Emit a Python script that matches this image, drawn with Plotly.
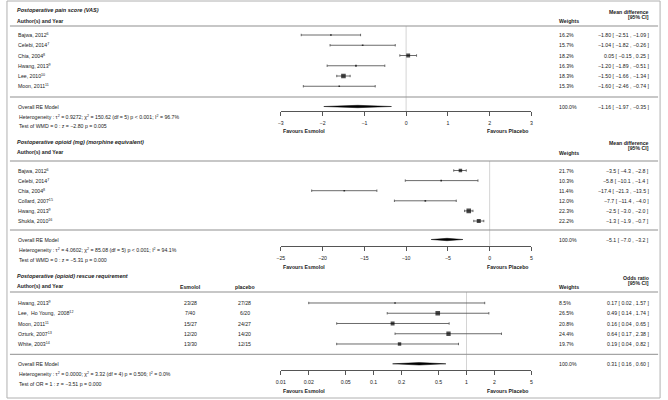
import numpy as np
import plotly.graph_objects as go

# ---------------- data ----------------
# Panel 1: postoperative pain score (VAS)
vas_studies = ["Bajwa, 2012", "Celebi, 2014", "Chia, 2004", "Hwang, 2013", "Lee, 2010", "Moon, 2011"]
vas_refs = ["6", "7", "8", "9", "10", "11"]
vas_est = [-1.80, -1.04, 0.05, -1.20, -1.50, -1.60]
vas_lo = [-2.51, -1.82, -0.15, -1.89, -1.66, -2.46]
vas_hi = [-1.09, -0.26, 0.25, -0.51, -1.34, -0.74]
vas_w = [16.2, 15.7, 18.2, 16.3, 18.3, 15.3]
vas_overall = [-1.16, -1.97, -0.35]
vas_ticks = [-3, -2, -1, 0, 1, 2, 3]
vas_het = ["0.9272", "150.62", "5", "p &lt; 0.001", "96.7%"]
vas_test = ["WMD = 0", "−2.80", "p = 0.005"]

# Panel 2: postoperative opioid (mg)
op_studies = ["Bajwa, 2012", "Celebi, 2014", "Chia, 2004", "Collard, 2007", "Hwang, 2013", "Shukla, 2010"]
op_refs = ["6", "7", "8", "15", "9", "16"]
op_est = [-3.5, -5.8, -17.4, -7.7, -2.5, -1.3]
op_lo = [-4.3, -10.1, -21.3, -11.4, -3.0, -1.9]
op_hi = [-2.8, -1.4, -13.5, -4.0, -2.0, -0.7]
op_w = [21.7, 10.3, 11.4, 12.0, 22.3, 22.2]
op_overall = [-5.1, -7.0, -3.2]
op_ticks = [-25, -20, -15, -10, -5, 0, 5]
op_het = ["4.0602", "85.08", "5", "p &lt; 0.001", "94.1%"]
op_test = ["WMD = 0", "−5.31", "p = 0.000"]

# Panel 3: rescue requirement (odds ratio)
rs_studies = ["Hwang, 2013", "Lee,  Ho Young,  2008", "Moon, 2011", "Ozturk, 2007", "White, 2003"]
rs_refs = ["9", "12", "11", "13", "14"]
rs_esm_ev = [23, 7, 15, 12, 13]
rs_esm_n = [28, 40, 27, 20, 30]
rs_pla_ev = [27, 6, 24, 14, 12]
rs_pla_n = [28, 20, 27, 20, 15]
rs_est = [0.17, 0.49, 0.16, 0.64, 0.19]
rs_lo = [0.02, 0.14, 0.04, 0.17, 0.04]
rs_hi = [1.57, 1.74, 0.65, 2.38, 0.82]
rs_w = [8.5, 26.5, 20.8, 24.4, 19.7]
rs_overall = [0.31, 0.16, 0.60]
rs_ticks = [0.01, 0.02, 0.05, 0.1, 0.2, 0.5, 1, 2, 5]
rs_tick_labels = ["0.01", "0.02", "0.05", "0.1", "0.2", "0.5", "1", "2", "5"]
rs_het = ["0.0000", "3.32", "4", "p = 0.506", "0.0%"]
rs_test = ["OR = 1", "−3.51", "p = 0.000"]

# ---------------- layout constants (pixels) ----------------
W, H = 668, 400
FONT = "Liberation Sans, Arial, sans-serif"
TXT = "#1a1a1a"
FS = 5.2
AX_L, AX_R = 278.7, 532.0
X_LABEL = 11
X_W = 558
X_CI = 653

def px(x):
    return x / W

def py(y):
    return 1 - y / H

fig = go.Figure()
annotations = []
shapes = []

def ann(x, y, text, anchor="left", size=FS):
    annotations.append(dict(x=px(x), y=py(y), xref="paper", yref="paper", text=text,
                            showarrow=False, xanchor=anchor, yanchor="middle",
                            font=dict(family=FONT, size=size, color=TXT)))

def hline(y, x0=5, x1=660, color="#8f8f8f"):
    shapes.append(dict(type="line", xref="paper", yref="y", x0=px(x0), x1=px(x1), y0=y, y1=y,
                       line=dict(color=color, width=1)))

def fmt(v, d):
    return f"{v:.{d}f}".replace("-", "−")

def psizes(lo, hi, log=False):
    lo = np.array(lo, float); hi = np.array(hi, float)
    w = (np.log(hi) - np.log(lo)) if log else (hi - lo)
    prec = 1 / w
    n = (prec - prec.min()) / (prec.max() - prec.min())
    return 1.6 + 3.0 * n

def panel(xa, studies, refs, est, lo, hi, wts, overall, ref_x, rows_y0, step,
          sep_top, sep_bot, axis_y, dec, log=False):
    rows = [rows_y0 + i * step for i in range(len(studies))]
    diam_y = sep_bot + 9.5
    # reference line
    fig.add_trace(go.Scatter(x=[ref_x, ref_x], y=[sep_top, axis_y], mode="lines",
                             line=dict(color="#d4d4d4", width=1), xaxis=xa, yaxis="y",
                             hoverinfo="skip"))
    est_a = np.array(est); lo_a = np.array(lo); hi_a = np.array(hi)
    fig.add_trace(go.Scatter(x=est, y=rows, mode="markers", xaxis=xa, yaxis="y",
                             marker=dict(symbol="square", size=psizes(lo, hi, log), color="black",
                                         line=dict(width=0)),
                             error_x=dict(type="data", symmetric=False, array=hi_a - est_a,
                                          arrayminus=est_a - lo_a, color="#5a5a5a",
                                          thickness=0.9, width=1.2),
                             hoverinfo="skip"))
    e, l, h = overall
    dh = 1.2
    fig.add_trace(go.Scatter(x=[l, e, h, e, l], y=[diam_y, diam_y - dh, diam_y, diam_y + dh, diam_y],
                             mode="lines", fill="toself", fillcolor="black",
                             line=dict(color="black", width=0.5), xaxis=xa, yaxis="y",
                             hoverinfo="skip"))
    for i, r in enumerate(rows):
        ann(X_LABEL, r, f"{studies[i]}<sup>{refs[i]}</sup>")
        ann(X_W, r, f"{wts[i]:.1f}%")
        ann(X_CI, r, f"{fmt(est[i], dec)} [ {fmt(lo[i], dec)} , {fmt(hi[i], dec)} ]", "right")
    ann(X_LABEL, diam_y, "Overall RE Model")
    ann(X_W, diam_y, "100.0%")
    ann(X_CI, diam_y, f"{fmt(e, dec)} [ {fmt(l, dec)} , {fmt(h, dec)} ]", "right")
    hline(sep_top)
    hline(sep_bot)
    return rows, diam_y

def het_lines(y1, y2, het, test):
    ann(12, y1, f"Heterogeneity : τ<sup>2</sup> = {het[0]}; χ<sup>2</sup> = {het[1]} (df = {het[2]}) {het[3]}; I<sup>2</sup> = {het[4]}")
    ann(12, y2, f"Test of {test[0]} : z = {test[1]} {test[2]}")

# ---- Panel 1 ----
ann(10, 10, "<b><i>Postoperative pain score (VAS)</i></b>", size=5.5)
ann(10, 20.5, "<b>Author(s) and Year</b>")
ann(X_W, 21.5, "<b>Weights</b>")
ann(X_CI, 11.5, "<b>Mean difference</b>", "right")
ann(X_CI, 16.8, "<b>[95% CI]</b>", "right")
panel("x", vas_studies, vas_refs, vas_est, vas_lo, vas_hi, vas_w, vas_overall, 0,
      35, 10.25, 26, 97, 111, 2)
het_lines(116.5, 126, vas_het, vas_test)
ann(AX_L, 131, "<b>Favours Esmolol</b>")
ann(AX_R, 131, "<b>Favours Placebo</b>", "right")

# ---- Panel 2 ----
ann(10, 142, "<b><i>Postoperative opioid (mg) (morphine equivalent)</i></b>", size=5.5)
ann(10, 152, "<b>Author(s) and Year</b>")
ann(X_W, 153, "<b>Weights</b>")
ann(X_CI, 143, "<b>Mean difference</b>", "right")
ann(X_CI, 148.3, "<b>[95% CI]</b>", "right")
panel("x2", op_studies, op_refs, op_est, op_lo, op_hi, op_w, op_overall, 0,
      170.5, 10.1, 161, 230, 245.7, 1)
het_lines(249.5, 259.5, op_het, op_test)
ann(AX_L, 266.5, "<b>Favours Esmolol</b>")
ann(AX_R, 266.5, "<b>Favours Placebo</b>", "right")

# ---- Panel 3 ----
ann(10, 275.7, "<b><i>Postoperative (opioid) rescue requirement</i></b>", size=5.5)
ann(10, 285.7, "<b>Author(s) and Year</b>")
ann(187, 286.5, "<b>Esmolol</b>", "center")
ann(242.5, 286.5, "<b>placebo</b>", "center")
ann(X_W, 287, "<b>Weights</b>")
ann(X_CI, 277.5, "<b>Odds ratio</b>", "right")
ann(X_CI, 282.8, "<b>[95% CI]</b>", "right")
rows3, _ = panel("x3", rs_studies, rs_refs, rs_est, rs_lo, rs_hi, rs_w, rs_overall, 1,
                 303, 10.25, 292, 354.3, 370, 2, log=True)
for i, r in enumerate(rows3):
    ann(187, r, f"{rs_esm_ev[i]}/{rs_esm_n[i]}", "center")
    ann(242.5, r, f"{rs_pla_ev[i]}/{rs_pla_n[i]}", "center")
het_lines(374, 384, rs_het, rs_test)
ann(AX_L, 390.5, "<b>Favours Esmolol</b>")
ann(AX_R, 390.5, "<b>Favours Placebo</b>", "right")

# outer frame
shapes.append(dict(type="rect", xref="paper", yref="paper", x0=px(2), x1=px(662),
                   y0=py(398), y1=py(1), line=dict(color="#b0b0b0", width=1)))

axis_common = dict(anchor="free", domain=[px(AX_L), px(AX_R)], showline=True,
                   linecolor="#555555", linewidth=1, ticks="outside", ticklen=4,
                   tickcolor="#555555", tickwidth=1, showgrid=False, zeroline=False,
                   tickfont=dict(family=FONT, size=FS, color=TXT), fixedrange=True,
                   ticklabelstandoff=3)

fig.update_layout(
    width=W, height=H, autosize=False,
    margin=dict(l=0, r=0, t=0, b=0),
    paper_bgcolor="white", plot_bgcolor="rgba(0,0,0,0)",
    showlegend=False, hovermode=False,
    xaxis=dict(**axis_common, range=[vas_ticks[0], vas_ticks[-1]], tickvals=vas_ticks,
               position=py(111)),
    xaxis2=dict(**axis_common, range=[op_ticks[0], op_ticks[-1]], tickvals=op_ticks,
                position=py(245.7)),
    xaxis3=dict(**axis_common, type="log", range=[np.log10(rs_ticks[0]), np.log10(rs_ticks[-1])],
                tickvals=rs_ticks, ticktext=rs_tick_labels, position=py(370)),
    yaxis=dict(range=[H, 0], domain=[0, 1], visible=False, fixedrange=True),
    annotations=annotations,
    shapes=shapes,
)

fig.write_html("out.html", config={"displayModeBar": False, "staticPlot": True},
               post_script="document.body.style.margin='0px';")
